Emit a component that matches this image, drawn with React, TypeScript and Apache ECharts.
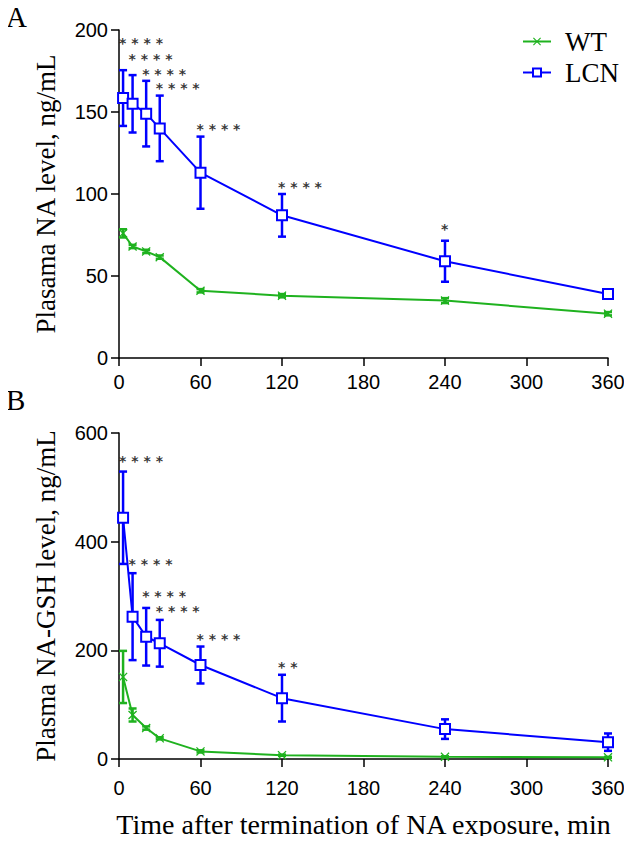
import React, { useEffect, useRef } from "react";
import * as echarts from "echarts";

const times = [3, 10, 20, 30, 60, 120, 240, 360];

// Panel A: plasma NA (ng/mL)
const naWT = [76, 68, 65, 61.5, 41, 38, 35, 27];
const naWTErr = [2.5, 1, 1, 1, 1, 1, 1.5, 1];
const naLCN = [158.5, 155, 149, 140, 113, 87, 59, 39];
const naLCNErr = [17, 17.5, 20, 20, 22, 13, 12.5, 1];
const naStarTimes = [3, 10, 20, 30, 60, 120, 240];
const naStarY = [194.5, 185, 175.5, 167, 142, 107, 81];
const naStars = ["****", "****", "****", "****", "****", "****", "*"];

// Panel B: plasma NA-GSH (ng/mL)
const gshWT = [151, 81, 57, 38, 14, 7, 4, 3];
const gshWTErr = [48, 12, 3, 2, 2, 1, 1, 1];
const gshLCN = [444, 262, 225, 213, 173, 112, 55, 31];
const gshLCNErr = [85, 80, 53, 43, 34, 43, 18, 16];
const gshStarTimes = [3, 10, 20, 30, 60, 120];
const gshStarY = [556, 367, 308, 279, 229, 177];
const gshStars = ["****", "****", "****", "****", "****", "**"];

const GREEN = "#1fb21f";
const BLUE = "#0000ff";
const SERIF = "Liberation Serif";
const SANS = "Liberation Sans";
const CROSS =
  "path://M1,0 L5,4 L9,0 L10,1 L6,5 L10,9 L9,10 L5,6 L1,10 L0,9 L4,5 L0,1 Z";

function spaced(s: string) {
  return s.split("").join(" ");
}

function errData(vals: number[], errs: number[]) {
  return times.map((t, i) => [t, vals[i] - errs[i], vals[i] + errs[i]]);
}

function errSeries(idx: number, name: string, color: string, vals: number[], errs: number[]) {
  return {
    type: "custom",
    name: name + " SD " + idx,
    xAxisIndex: idx,
    yAxisIndex: idx,
    z: 3,
    encode: { x: 0, y: [1, 2] },
    data: errData(vals, errs),
    renderItem: (params: any, api: any) => {
      const lo = api.coord([api.value(0), api.value(1)]);
      const hi = api.coord([api.value(0), api.value(2)]);
      const st = { stroke: color, lineWidth: 2.5 };
      return {
        type: "group",
        children: [
          { type: "line", shape: { x1: lo[0], y1: lo[1], x2: hi[0], y2: hi[1] }, style: st },
          { type: "line", shape: { x1: hi[0] - 4, y1: hi[1], x2: hi[0] + 4, y2: hi[1] }, style: st },
          { type: "line", shape: { x1: lo[0] - 4, y1: lo[1], x2: lo[0] + 4, y2: lo[1] }, style: st },
        ],
      };
    },
  };
}

function lineSeries(idx: number, name: string, vals: number[]) {
  const wt = name === "WT";
  const color = wt ? GREEN : BLUE;
  return {
    type: "line",
    name,
    color,
    xAxisIndex: idx,
    yAxisIndex: idx,
    z: 4,
    data: times.map((t, i) => [t, vals[i]]),
    symbol: wt ? CROSS : "rect",
    symbolSize: wt ? 9 : 10,
    lineStyle: { color, width: 2 },
    itemStyle: wt
      ? { color }
      : { color: "#ffffff", borderColor: color, borderWidth: 2 },
  };
}

function starSeries(idx: number, ts: number[], ys: number[], labels: string[]) {
  return {
    type: "scatter",
    name: "sig" + idx,
    xAxisIndex: idx,
    yAxisIndex: idx,
    symbolSize: 0,
    z: 5,
    data: ts.map((t, i) => ({
      value: [t, ys[i]],
      label: { formatter: spaced(labels[i]) },
    })),
    label: {
      show: true,
      position: "inside",
      align: "left",
      verticalAlign: "middle",
      offset: [-4, 4],
      color: "#000000",
      fontFamily: "DejaVu Sans",
      fontWeight: "bold",
      fontSize: 14,
      lineHeight: 12,
    },
  };
}

const axisCommon = {
  axisLine: { show: true, lineStyle: { color: "#000", width: 1.5 } },
  axisTick: { show: true, length: 8, lineStyle: { color: "#000", width: 1.5 } },
  splitLine: { show: false },
};

const labelStyle = { color: "#000", fontFamily: SANS, fontSize: 20 };
const titleStyle = { fontFamily: SERIF, fontSize: 27, color: "#000" };

export default function App() {
  const ref = useRef<HTMLDivElement>(null);
  useEffect(() => {
    if (!ref.current) return;
    const chart = echarts.init(ref.current, null, { renderer: "svg" });
    chart.setOption({
      animation: false,
      backgroundColor: "#ffffff",
      grid: [
        { left: 119, top: 30, width: 489, height: 328 },
        { left: 119, top: 433, width: 489, height: 326 },
      ],
      legend: {
        data: ["WT", "LCN"],
        orient: "vertical",
        left: 517,
        top: 23,
        itemWidth: 28,
        itemHeight: 10,
        itemGap: 4,
        textStyle: {
          fontFamily: SERIF,
          fontSize: 27,
          lineHeight: 27,
          color: "#000",
          padding: [0, 0, 0, 9],
        },
      },
      xAxis: [0, 1].map((i) => ({
        type: "value",
        gridIndex: i,
        min: 0,
        max: 360,
        interval: 60,
        ...axisCommon,
        axisLabel: { ...labelStyle, margin: i === 0 ? 14 : 19 },
        name: i === 1 ? "Time after termination of NA exposure, min" : "",
        nameLocation: "middle",
        nameGap: 51,
        nameTextStyle: { ...titleStyle, fontSize: 28 },
      })),
      yAxis: [
        {
          type: "value",
          gridIndex: 0,
          min: 0,
          max: 200,
          interval: 50,
          ...axisCommon,
          axisLabel: { ...labelStyle, margin: 11 },
          name: "Plasama NA level, ng/mL",
          nameLocation: "middle",
          nameGap: 60,
          nameTextStyle: titleStyle,
        },
        {
          type: "value",
          gridIndex: 1,
          min: 0,
          max: 600,
          interval: 200,
          ...axisCommon,
          axisLabel: { ...labelStyle, margin: 11 },
          name: "Plasma NA-GSH level, ng/mL",
          nameLocation: "middle",
          nameGap: 60,
          nameTextStyle: titleStyle,
        },
      ],
      graphic: [
        { type: "text", left: 6, top: 2, style: { text: "A", fontFamily: SERIF, fontSize: 29, fill: "#000" } },
        { type: "text", left: 6, top: 385, style: { text: "B", fontFamily: SERIF, fontSize: 29, fill: "#000" } },
      ],
      series: [
        errSeries(0, "WT", GREEN, naWT, naWTErr),
        errSeries(0, "LCN", BLUE, naLCN, naLCNErr),
        lineSeries(0, "WT", naWT),
        lineSeries(0, "LCN", naLCN),
        starSeries(0, naStarTimes, naStarY, naStars),
        errSeries(1, "WT", GREEN, gshWT, gshWTErr),
        errSeries(1, "LCN", BLUE, gshLCN, gshLCNErr),
        lineSeries(1, "WT", gshWT),
        lineSeries(1, "LCN", gshLCN),
        starSeries(1, gshStarTimes, gshStarY, gshStars),
      ],
    });
    return () => chart.dispose();
  }, []);
  return <div ref={ref} style={{ width: 632, height: 844, margin: -8 }} />;
}
